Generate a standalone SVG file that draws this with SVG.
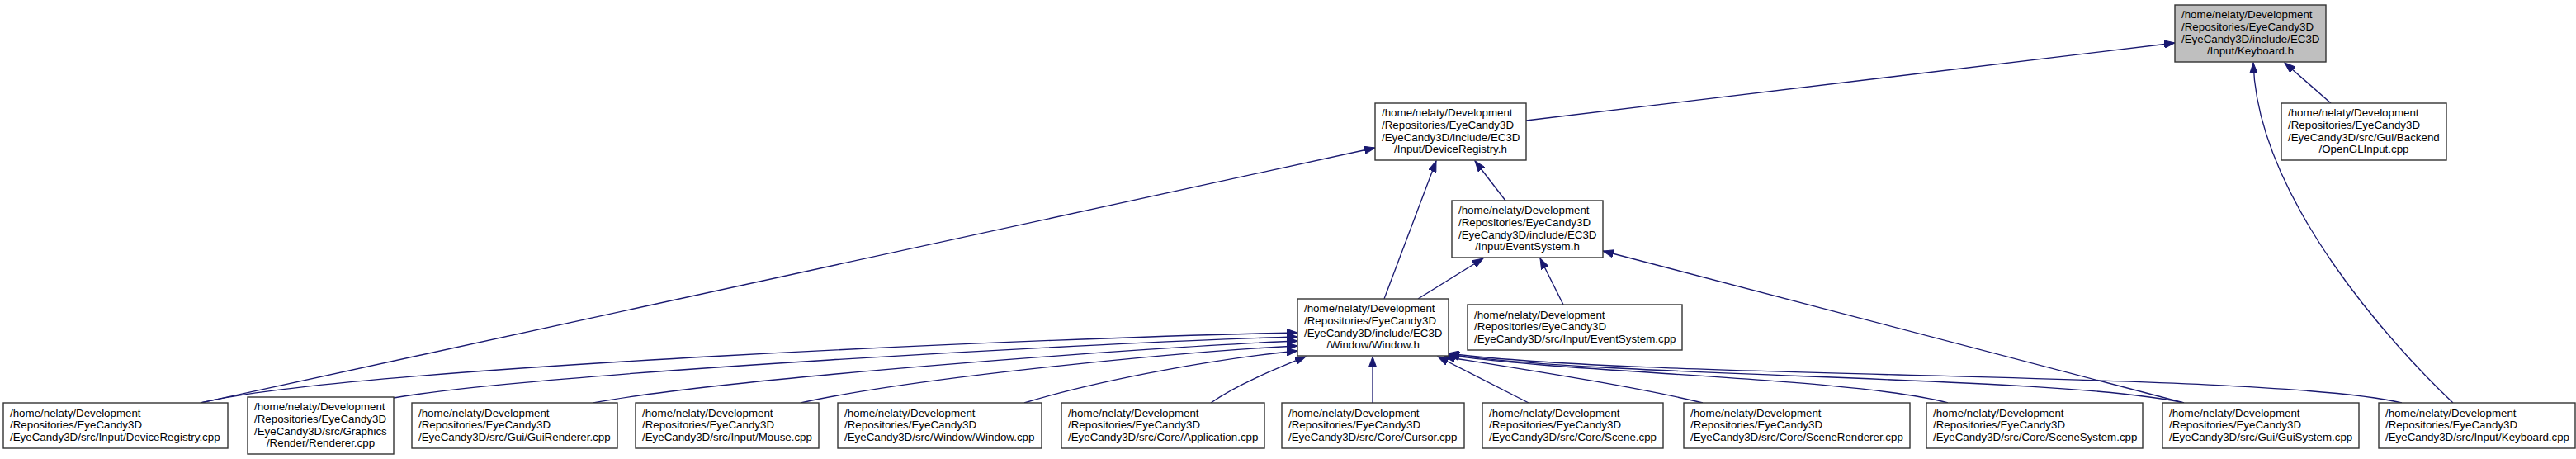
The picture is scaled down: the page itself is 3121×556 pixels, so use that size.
<svg xmlns="http://www.w3.org/2000/svg" width="3121" height="556" viewBox="0 0 3121 556">
<style>
.n rect{fill:#fff;stroke:#333;stroke-width:1.4}
.n.hl rect{fill:#bfbfbf}
.n text{font-family:"Liberation Sans",Arial,Helvetica,sans-serif;font-size:13.33px;fill:#000}
.c{text-anchor:middle}
#edges path{fill:none;stroke:#191970;stroke-width:1.33;marker-end:url(#arr)}
</style>
<defs>
<marker id="arr" markerUnits="userSpaceOnUse" markerWidth="14" markerHeight="10" refX="13" refY="5" orient="auto">
<path d="M0,0.3 L13,5 L0,9.7 z" fill="#191970" stroke="#191970" stroke-width="1"/>
</marker>
</defs>
<rect width="3121" height="556" fill="#fff"/>
<g id="edges">
<path d="M1849,146 L2635,52"/>
<path d="M2824,125 L2768,76"/>
<path d="M2972,488 C2900,420 2735,240 2730,76"/>
<path d="M243,488 L1666,179"/>
<path d="M243,488 C420,445 1300,408 1572,403"/>
<path d="M477,482 C650,452 1350,414 1572,408"/>
<path d="M719,488 C880,458 1400,420 1572,413"/>
<path d="M970,488 C1120,455 1450,425 1572,419"/>
<path d="M1241,488 C1340,458 1480,434 1572,425"/>
<path d="M1467,488 C1500,465 1550,445 1582,432"/>
<path d="M1663,488 L1663,432"/>
<path d="M1852,488 L1742,432"/>
<path d="M2063,488 C1980,468 1850,448 1750,432"/>
<path d="M2360,488 C2250,458 1900,452 1755,430"/>
<path d="M2646,488 C2500,455 1950,458 1755,429"/>
<path d="M2910,488 C2750,450 2000,460 1755,428"/>
<path d="M2646,488 L1942,304"/>
<path d="M1718,362 L1797,313"/>
<path d="M1677,362 L1740,195"/>
<path d="M1824,243 L1787,195"/>
<path d="M1894,369 L1866,313"/>
</g>
<g id="kbh" class="n hl"><rect x="2635" y="6" width="183" height="69"/>
<text x="2643" y="22.3">/home/nelaty/Development</text><text x="2643" y="37">/Repositories/EyeCandy3D</text><text x="2643" y="51.6">/EyeCandy3D/include/EC3D</text><text class="c" x="2726.5" y="66.3">/Input/Keyboard.h</text></g>
<g id="oglin" class="n"><rect x="2764" y="125" width="200" height="69"/>
<text x="2772" y="141.3">/home/nelaty/Development</text><text x="2772" y="156">/Repositories/EyeCandy3D</text><text x="2772" y="170.6">/EyeCandy3D/src/Gui/Backend</text><text class="c" x="2864" y="185.3">/OpenGLInput.cpp</text></g>
<g id="devregh" class="n"><rect x="1666" y="125" width="183" height="69"/>
<text x="1674" y="141.3">/home/nelaty/Development</text><text x="1674" y="156">/Repositories/EyeCandy3D</text><text x="1674" y="170.6">/EyeCandy3D/include/EC3D</text><text class="c" x="1757.5" y="185.3">/Input/DeviceRegistry.h</text></g>
<g id="evsh" class="n"><rect x="1759" y="243" width="183" height="69"/>
<text x="1767" y="259.3">/home/nelaty/Development</text><text x="1767" y="274">/Repositories/EyeCandy3D</text><text x="1767" y="288.6">/EyeCandy3D/include/EC3D</text><text class="c" x="1850.5" y="303.3">/Input/EventSystem.h</text></g>
<g id="winh" class="n"><rect x="1572" y="362" width="183" height="69"/>
<text x="1580" y="378.3">/home/nelaty/Development</text><text x="1580" y="393">/Repositories/EyeCandy3D</text><text x="1580" y="407.6">/EyeCandy3D/include/EC3D</text><text class="c" x="1663.5" y="422.3">/Window/Window.h</text></g>
<g id="evscpp" class="n"><rect x="1778" y="369" width="260" height="55"/>
<text x="1786" y="385.5">/home/nelaty/Development</text><text x="1786" y="400.2">/Repositories/EyeCandy3D</text><text x="1786" y="414.8">/EyeCandy3D/src/Input/EventSystem.cpp</text></g>
<g id="devregcpp" class="n"><rect x="4" y="488" width="272" height="55"/>
<text x="12" y="504.5">/home/nelaty/Development</text><text x="12" y="519.2">/Repositories/EyeCandy3D</text><text x="12" y="533.8">/EyeCandy3D/src/Input/DeviceRegistry.cpp</text></g>
<g id="renderer" class="n"><rect x="300" y="481" width="177" height="69"/>
<text x="308" y="497.3">/home/nelaty/Development</text><text x="308" y="512">/Repositories/EyeCandy3D</text><text x="308" y="526.6">/EyeCandy3D/src/Graphics</text><text class="c" x="388.5" y="541.3">/Render/Renderer.cpp</text></g>
<g id="guirenderer" class="n"><rect x="499" y="488" width="249" height="55"/>
<text x="507" y="504.5">/home/nelaty/Development</text><text x="507" y="519.2">/Repositories/EyeCandy3D</text><text x="507" y="533.8">/EyeCandy3D/src/Gui/GuiRenderer.cpp</text></g>
<g id="mouse" class="n"><rect x="770" y="488" width="222" height="55"/>
<text x="778" y="504.5">/home/nelaty/Development</text><text x="778" y="519.2">/Repositories/EyeCandy3D</text><text x="778" y="533.8">/EyeCandy3D/src/Input/Mouse.cpp</text></g>
<g id="windowcpp" class="n"><rect x="1015" y="488" width="247" height="55"/>
<text x="1023" y="504.5">/home/nelaty/Development</text><text x="1023" y="519.2">/Repositories/EyeCandy3D</text><text x="1023" y="533.8">/EyeCandy3D/src/Window/Window.cpp</text></g>
<g id="application" class="n"><rect x="1286" y="488" width="246" height="55"/>
<text x="1294" y="504.5">/home/nelaty/Development</text><text x="1294" y="519.2">/Repositories/EyeCandy3D</text><text x="1294" y="533.8">/EyeCandy3D/src/Core/Application.cpp</text></g>
<g id="cursor" class="n"><rect x="1553" y="488" width="221" height="55"/>
<text x="1561" y="504.5">/home/nelaty/Development</text><text x="1561" y="519.2">/Repositories/EyeCandy3D</text><text x="1561" y="533.8">/EyeCandy3D/src/Core/Cursor.cpp</text></g>
<g id="scene" class="n"><rect x="1796" y="488" width="219" height="55"/>
<text x="1804" y="504.5">/home/nelaty/Development</text><text x="1804" y="519.2">/Repositories/EyeCandy3D</text><text x="1804" y="533.8">/EyeCandy3D/src/Core/Scene.cpp</text></g>
<g id="scenerenderer" class="n"><rect x="2040" y="488" width="274" height="55"/>
<text x="2048" y="504.5">/home/nelaty/Development</text><text x="2048" y="519.2">/Repositories/EyeCandy3D</text><text x="2048" y="533.8">/EyeCandy3D/src/Core/SceneRenderer.cpp</text></g>
<g id="scenesystem" class="n"><rect x="2334" y="488" width="262" height="55"/>
<text x="2342" y="504.5">/home/nelaty/Development</text><text x="2342" y="519.2">/Repositories/EyeCandy3D</text><text x="2342" y="533.8">/EyeCandy3D/src/Core/SceneSystem.cpp</text></g>
<g id="guisystem" class="n"><rect x="2620" y="488" width="238" height="55"/>
<text x="2628" y="504.5">/home/nelaty/Development</text><text x="2628" y="519.2">/Repositories/EyeCandy3D</text><text x="2628" y="533.8">/EyeCandy3D/src/Gui/GuiSystem.cpp</text></g>
<g id="keyboardcpp" class="n"><rect x="2882" y="488" width="238" height="55"/>
<text x="2890" y="504.5">/home/nelaty/Development</text><text x="2890" y="519.2">/Repositories/EyeCandy3D</text><text x="2890" y="533.8">/EyeCandy3D/src/Input/Keyboard.cpp</text></g>
</svg>
